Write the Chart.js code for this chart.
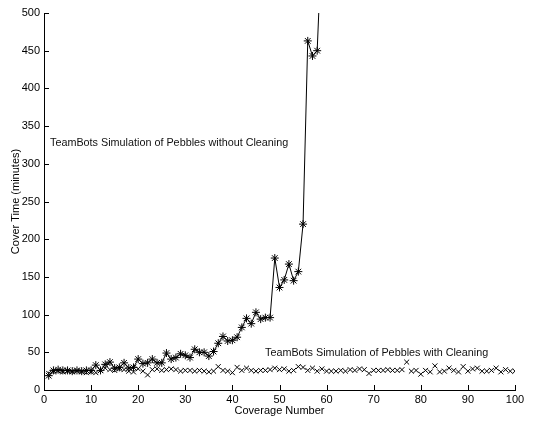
<!DOCTYPE html>
<html>
<head>
<meta charset="utf-8">
<script src="https://cdn.jsdelivr.net/npm/chart.js@4.4.1/dist/chart.umd.min.js"></script>
<style>
  html, body { margin: 0; padding: 0; background: #fff; }
  #wrap { width: 533px; height: 422px; }
</style>
</head>
<body>
<div id="wrap"><canvas id="coverChart" width="533" height="422"></canvas></div>
<script>
// coverage number on x, cover time (minutes) on y
const noCleanX = [];
for (let i = 1; i <= 59; i++) noCleanX.push(i);
const noCleanY = [19, 26, 27, 26, 26, 25, 26, 25, 26, 26,
                  33, 26, 34, 37, 29, 30, 36, 29, 30, 41,
                  35, 36, 41, 36, 36, 49, 41, 43, 48, 46,
                  43, 54, 50, 50, 45, 51, 62, 71, 65, 66,
                  70, 83, 95, 88, 103, 94, 96, 96, 175, 136,
                  146, 167, 145, 157, 220, 463, 443, 450, 600];

const cleanX = [];
for (let i = 1; i <= 100; i++) cleanX.push(i);
const cleanY = [22, 24, 25, 24, 25, 24, 25, 24, 23, 24,
                23, 26, 29, 27, 26, 28, 27, 25, 24, 28,
                25, 20, 27, 28, 26, 27, 28, 27, 25, 26,
                26, 25, 26, 25, 24, 25, 31, 26, 25, 23,
                30, 26, 29, 26, 25, 26, 26, 27, 29, 27,
                28, 25, 26, 31, 30, 26, 29, 25, 28, 25,
                25, 25, 26, 25, 27, 26, 28, 27, 22, 26,
                26, 26, 27, 26, 26, 27, 37, 25, 26, 21,
                26, 24, 32, 24, 25, 29, 26, 24, 31, 25,
                28, 29, 25, 25, 26, 29, 24, 27, 25, 25];

const xTicks = [0, 10, 20, 30, 40, 50, 60, 70, 80, 90, 100];
const yTicks = [0, 50, 100, 150, 200, 250, 300, 350, 400, 450, 500];

const labelNoClean = "TeamBots Simulation of Pebbles without Cleaning";
const labelClean = "TeamBots Simulation of Pebbles with Cleaning";

const FONT = "'Liberation Sans', Arial, Helvetica, sans-serif";

// ticks pointing into the plot, like the matlab original
const inwardTicks = {
    id: 'inwardTicks',
    afterDraw(chart) {
        const ctx = chart.ctx;
        const xs = chart.scales.x, ys = chart.scales.y;
        const a = chart.chartArea;
        ctx.save();
        ctx.strokeStyle = '#000';
        ctx.lineWidth = 1;
        ctx.beginPath();
        xTicks.forEach(v => {
            const px = Math.round(xs.getPixelForValue(v)) + 0.5;
            ctx.moveTo(px, a.bottom); ctx.lineTo(px, a.bottom - 5);
        });
        yTicks.forEach(v => {
            const py = Math.round(ys.getPixelForValue(v)) + 0.5;
            ctx.moveTo(a.left, py); ctx.lineTo(a.left + 5, py);
        });
        ctx.stroke();

        // the two text notes
        ctx.fillStyle = '#111';
        ctx.font = "10.8px " + FONT;
        ctx.textBaseline = 'middle';
        ctx.fillText(labelNoClean, 50, 143);
        ctx.fillText(labelClean, 265, 353);
        ctx.restore();
    }
};

const toPts = (xa, ya) => xa.map((x, i) => ({ x: x, y: ya[i] }));

new Chart(document.getElementById('coverChart'), {
    type: 'scatter',
    data: {
        datasets: [
            {
                label: labelNoClean,
                data: toPts(noCleanX, noCleanY),
                showLine: true,
                borderColor: '#000',
                borderWidth: 1,
                pointStyle: 'star',
                pointRadius: 4,
                pointBorderColor: '#000',
                pointBorderWidth: 1,
                pointBackgroundColor: '#000'
            },
            {
                label: labelClean,
                data: toPts(cleanX, cleanY),
                showLine: false,
                pointStyle: 'crossRot',
                pointRadius: 3.5,
                pointBorderColor: '#000',
                pointBorderWidth: 1
            }
        ]
    },
    options: {
        responsive: false,
        animation: false,
        layout: { padding: { top: 13, right: 18, left: 0, bottom: 0 } },
        plugins: { legend: { display: false }, tooltip: { enabled: false } },
        scales: {
            x: {
                type: 'linear', min: 0, max: 100,
                afterFit: s => { s.height = 32; },
                afterBuildTicks: s => { s.ticks = xTicks.map(v => ({ value: v })); },
                grid: { display: false, drawTicks: false },
                border: { display: true, color: '#000', width: 1 },
                ticks: { color: '#000', padding: 3, font: { family: FONT, size: 11 } },
                title: { display: true, text: 'Coverage Number', color: '#000', padding: { top: 0, bottom: 4 }, font: { family: FONT, size: 11 } }
            },
            y: {
                type: 'linear', min: 0, max: 500,
                afterFit: s => { s.width = 44; },
                afterBuildTicks: s => { s.ticks = yTicks.map(v => ({ value: v })); },
                grid: { display: false, drawTicks: false },
                border: { display: true, color: '#000', width: 1 },
                ticks: { color: '#000', padding: 4, font: { family: FONT, size: 11 } },
                title: { display: true, text: 'Cover Time (minutes)', color: '#000', padding: { top: 9, bottom: 0 }, font: { family: FONT, size: 11 } }
            }
        }
    },
    plugins: [inwardTicks]
});
</script>
</body>
</html>
